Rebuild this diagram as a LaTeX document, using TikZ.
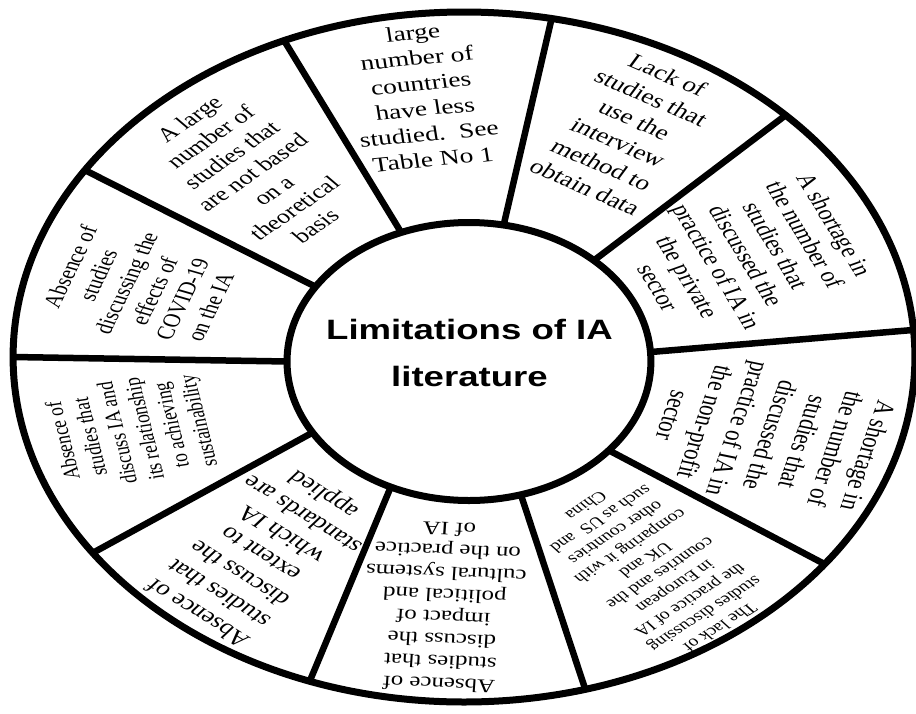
\documentclass[tikz,border=0pt]{standalone}
\usepackage{fontspec}
\setmainfont{Liberation Serif}
\newfontfamily\titlefont{Liberation Sans}
\usetikzlibrary{calc}
\tikzset{
  ring/.style={line width=7pt, draw=black},
  divider/.style={line width=6.5pt, draw=black},
  segtext/.style={align=center, transform shape, inner sep=0pt, text=black},
}
\begin{document}
\begin{tikzpicture}[x=1pt, y=1pt]
\fill[white] (0,0) rectangle (916,-713);
\useasboundingbox (0,0) rectangle (916,-713);
\begin{scope}[shift={(464,-357)}, xscale=1.307]
  \coordinate (oc) at (0,0);
  \coordinate (ic) at (3.8,-4.5);
  % divider end points
  \coordinate (o1) at (113.5:345);  \coordinate (i1) at ($(ic)+(111.9:139)$);
  \coordinate (o2) at (78.8:345);   \coordinate (i2) at ($(ic)+(79:139)$);
  \coordinate (o3) at (44.5:345);   \coordinate (i3) at ($(ic)+(46.6:139)$);
  \coordinate (o4) at (4.5:345);    \coordinate (i4) at ($(ic)+(3.9:139)$);
  \coordinate (o5) at (-36.9:345);  \coordinate (i5) at ($(ic)+(-39.7:139)$);
  \coordinate (o6) at (-74.4:345);  \coordinate (i6) at ($(ic)+(-73.4:139)$);
  \coordinate (o7) at (-110:345);   \coordinate (i7) at ($(ic)+(-115.5:139)$);
  \coordinate (o8) at (-145.4:345); \coordinate (i8) at ($(ic)+(-149.3:139)$);
  \coordinate (o9) at (180:345);    \coordinate (i9) at ($(ic)+(180:139)$);
  \coordinate (o10) at (147.2:345); \coordinate (i10) at ($(ic)+(147.5:139)$);
  \foreach \k in {1,...,10} {\draw[divider] (o\k) -- (i\k);}
  % rings
  \draw[ring] (oc) ellipse [x radius=345, y radius=345];
  \draw[ring, fill=white] (ic) ellipse [x radius=139.2, y radius=139];
  % title
  \node[segtext, font=\titlefont\bfseries\fontsize{28}{47}\selectfont] (title) at (4.2,4)
    {Limitations of IA\\literature};
  % segment texts
  \node[segtext, rotate=42, font=\fontsize{20}{24}\selectfont] (sa) at (-162,184.5)
    {A large\\number of\\studies that\\are not based\\on a\\theoretical\\basis};
  \node[segtext, rotate=7, font=\fontsize{21}{25.5}\selectfont] (sb) at (-31.4,261)
    {large\\number of\\countries\\have less\\studied.\ \ See\\Table No 1};
  \node[segtext, rotate=-29.5, font=\fontsize{21}{25.7}\selectfont] (sc) at (124.3,226)
    {Lack of\\studies that\\use the\\interview\\method to\\obtain data};
  \node[segtext, rotate=-65, font=\fontsize{20.5}{24.8}\selectfont] (sd) at (216,101)
    {A shortage in\\the number of\\studies that\\discussed the\\practice of IA in\\the private\\sector};
  \node[segtext, rotate=-105, font=\fontsize{21}{25.8}\selectfont] (se) at (234.5,-78.5)
    {A shortage in\\the number of\\studies that\\discussed the\\practice of IA in\\the non-profit\\sector};
  \node[segtext, rotate=-140, font=\fontsize{15}{17.7}\selectfont] (sf) at (145,-210)
    {The lack of\\studies discussing\\the practice of IA\\in European\\countries and the\\UK and\\comparing it with\\other countries\\such as US\ \ and\\China};
  \node[segtext, rotate=177, font=\fontsize{19}{22.2}\selectfont] (sg) at (-15.3,-250)
    {Absence of\\studies that\\discuss the\\impact of\\political and\\cultural systems\\on the practice\\of IA};
  \node[segtext, rotate=141, font=\fontsize{21}{25.4}\selectfont] (sh) at (-155,-196)
    {Absence of\\studies that\\discuss the\\extent to\\which IA\\standards are\\applied};
  \node[segtext, rotate=101, font=\fontsize{17.5}{21.1}\selectfont] (si) at (-253.6,-73.7)
    {Absence of\\studies that\\discuss IA and\\its relationship\\to achieving\\sustainability};
  \node[segtext, rotate=69.5, font=\fontsize{19}{22.9}\selectfont] (sj) at (-247.9,70)
    {Absence of\\studies\\discussing the\\effects of\\COVID-19\\on the IA};
\end{scope}
\end{tikzpicture}
\end{document}
